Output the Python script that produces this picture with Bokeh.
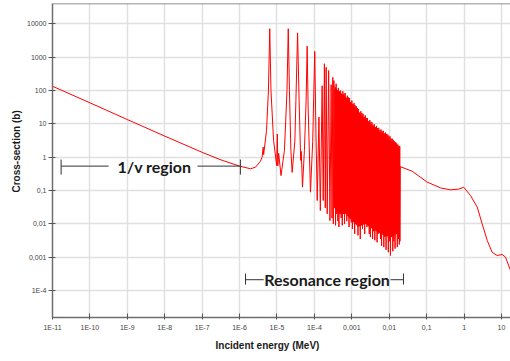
from bokeh.plotting import figure
from bokeh.models import Range1d, FixedTicker, CustomJSTickFormatter, Label, Title, Span
from bokeh.embed import file_html
from bokeh.resources import INLINE

# ---------------- data ----------------
x_ticks = [1e-11, 1e-10, 1e-9, 1e-8, 1e-7, 1e-6, 1e-5, 1e-4, 1e-3, 1e-2, 1e-1, 1, 10]
x_tick_labels = ["1E-11", "1E-10", "1E-9", "1E-8", "1E-7", "1E-6", "1E-5", "1E-4",
                 "0,001", "0,01", "0,1", "1", "10"]
y_ticks = [1e-4, 1e-3, 1e-2, 1e-1, 1, 10, 100, 1000, 10000]
y_tick_labels = ["1E-4", "0,001", "0,01", "0,1", "1", "10", "100", "1000", "10000"]

# 1/v region (MeV, barns)
onev_E = [1e-11, 1e-10, 1e-9, 1e-8, 1e-7, 3e-7, 1e-6]
onev_xs = [135, 43, 13.5, 4.3, 1.4, 0.85, 0.54]

# resolved resonances
res_E = [1.95e-6, 2.66e-6, 3.6e-6, 4.0e-6, 4.27e-6, 4.4e-6, 5.25e-6, 5.9e-6, 6.4e-6, 6.9e-6,
         8.1e-6, 9.8e-6, 1.02e-5, 1.05e-5, 1.11e-5, 1.28e-5, 1.58e-5, 1.85e-5, 2.0e-5, 2.15e-5,
         2.35e-5, 2.54e-5, 3.0e-5, 3.2e-5, 3.55e-5, 3.9e-5, 4.3e-5, 4.45e-5, 4.8e-5, 5.4e-5,
         6.0e-5, 6.4e-5, 6.8e-5, 7.85e-5, 9.0e-5, 1.02e-4, 1.1e-4, 1.19e-4, 1.32e-4, 1.44e-4,
         1.61e-4, 1.72e-4, 1.85e-4, 1.95e-4, 2.06e-4, 2.2e-4, 2.4e-4, 2.6e-4, 2.8e-4, 2.95e-4,
         3.1e-4, 3.2e-4]
res_xs = [0.45, 0.50, 0.75, 1.0, 2.0, 1.2, 6.3, 100, 7200, 100,
          3.2, 0.56, 5, 0.55, 1.3, 0.28, 1.6, 100, 7200, 100,
          1.6, 0.35, 3, 50, 5400, 50, 0.8, 1.5, 0.126, 1.6,
          50, 2150, 30, 0.089, 3, 1500, 5, 0.05, 16, 0.025,
          140, 0.05, 640, 0.03, 500, 0.02, 400, 0.0125, 150, 0.015,
          250, 0.01]

# dense resonance band: peaks and valleys
band_peak_E = [3.31e-4, 3.55e-4, 3.80e-4, 4.07e-4, 4.37e-4, 4.68e-4, 5.01e-4, 5.37e-4, 5.75e-4, 6.17e-4,
               6.61e-4, 7.08e-4, 7.59e-4, 8.13e-4, 8.71e-4, 9.33e-4, 1.0e-3, 1.07e-3, 1.15e-3, 1.23e-3,
               1.32e-3, 1.41e-3, 1.51e-3, 1.62e-3, 1.74e-3, 1.86e-3, 2.0e-3, 2.14e-3, 2.29e-3, 2.45e-3,
               2.63e-3, 2.82e-3, 3.02e-3, 3.24e-3, 3.47e-3, 3.72e-3, 3.98e-3, 4.27e-3, 4.57e-3, 4.90e-3,
               5.25e-3, 5.62e-3, 6.03e-3, 6.46e-3, 6.92e-3, 7.41e-3, 7.94e-3, 8.51e-3, 9.12e-3, 9.77e-3,
               1.05e-2, 1.12e-2, 1.20e-2, 1.29e-2, 1.38e-2, 1.48e-2, 1.58e-2, 1.70e-2, 1.82e-2, 1.91e-2]
band_peak_xs = [200, 110, 160, 75, 120, 95, 100, 60, 95, 80,
                85, 55, 70, 62, 60, 45, 50, 40, 42, 36,
                34, 30, 28, 22, 24, 21, 20, 16, 18, 15,
                15, 12, 13, 11.5, 11, 9, 9.8, 8, 8.7, 7.5,
                7.6, 6.5, 6.8, 6.0, 6.2, 5.2, 5.5, 5.0, 4.8, 4.4,
                4.2, 3.6, 3.6, 3.3, 3.0, 2.8, 2.6, 2.4, 2.2, 2.1]
band_valley_E = [3.43e-4, 3.67e-4, 3.94e-4, 4.22e-4, 4.52e-4, 4.84e-4, 5.19e-4, 5.56e-4, 5.96e-4, 6.38e-4,
                 6.84e-4, 7.33e-4, 7.85e-4, 8.41e-4, 9.02e-4, 9.66e-4, 1.035e-3, 1.11e-3, 1.19e-3, 1.27e-3,
                 1.36e-3, 1.46e-3, 1.57e-3, 1.68e-3, 1.80e-3, 1.93e-3, 2.07e-3, 2.21e-3, 2.37e-3, 2.54e-3,
                 2.72e-3, 2.92e-3, 3.13e-3, 3.35e-3, 3.59e-3, 3.85e-3, 4.12e-3, 4.42e-3, 4.73e-3, 5.07e-3,
                 5.43e-3, 5.82e-3, 6.24e-3, 6.68e-3, 7.16e-3, 7.67e-3, 8.22e-3, 8.81e-3, 9.44e-3, 1.01e-2,
                 1.08e-2, 1.16e-2, 1.245e-2, 1.33e-2, 1.43e-2, 1.53e-2, 1.64e-2, 1.76e-2, 1.86e-2]
band_valley_xs = [0.03, 0.009, 0.02, 0.012, 0.008, 0.02, 0.015, 0.009, 0.02, 0.01,
                  0.028, 0.012, 0.02, 0.008, 0.016, 0.011, 0.007, 0.014, 0.005, 0.012,
                  0.01, 0.0045, 0.009, 0.0035, 0.01, 0.007, 0.011, 0.005, 0.0126, 0.008,
                  0.01, 0.005, 0.004, 0.008, 0.0035, 0.006, 0.0032, 0.007, 0.0028, 0.005,
                  0.0063, 0.0035, 0.0022, 0.005, 0.002, 0.004, 0.00166, 0.0045, 0.0014, 0.003,
                  0.00112, 0.004, 0.0015, 0.003, 0.0018, 0.005, 0.002, 0.0035, 0.0024]

# dense band: densely filled core (visually solid)
core_E = [3.43e-4, 4.4e-4, 6.76e-4, 1.04e-3, 1.50e-3, 2.32e-3, 3.56e-3, 5.15e-3, 7.92e-3, 1.22e-2, 1.91e-2]
core_top = [140, 95, 66, 38, 22, 13.5, 8.6, 6.1, 4.4, 2.8, 1.9]
core_bottom = [0.03, 0.02, 0.02, 0.012, 0.008, 0.01, 0.007, 0.0055, 0.0042, 0.0042, 0.0055]

# fast region
tail_E = [1.93e-2, 1.97e-2, 0.041, 0.102, 0.234, 0.43, 0.71, 0.98, 1.48, 2.24,
          3.04, 4.14, 5.62, 7.66, 10.4, 12.8, 17.4]
tail_xs = [0.003, 0.52, 0.38, 0.18, 0.12, 0.105, 0.11, 0.125, 0.071, 0.032,
           0.01, 0.0032, 0.0014, 0.00112, 0.0012, 0.001, 0.0004]

# region annotations
onev_region = [1.7e-11, 1.05e-6]
onev_gap = [3.16e-10, 7.5e-8]
onev_level = 0.54
onev_bar = [0.30, 0.85]
onev_text_x = 5.3e-9
res_region = [1.44e-6, 0.024]
res_gap = [4.4e-6, 0.0108]
res_level = 2.1e-4
res_bar = [1.5e-4, 3.2e-4]
res_text_x = 2.17e-4

x_min, x_max = 1e-11, 17.4
y_min, y_max = 1.54e-5, 4.12e4

# ---------------- assemble curve ----------------
band_E, band_xs = [], []
for i in range(len(band_peak_E)):
    band_E.append(band_peak_E[i]); band_xs.append(band_peak_xs[i])
    if i < len(band_valley_E):
        band_E.append(band_valley_E[i]); band_xs.append(band_valley_xs[i])

E_all = onev_E + res_E + band_E + tail_E
xs_all = onev_xs + res_xs + band_xs + tail_xs

# ---------------- figure ----------------
p = figure(width=510, height=361, x_axis_type="log", y_axis_type="log",
           x_range=Range1d(x_min, x_max), y_range=Range1d(y_min, y_max),
           output_backend="svg", toolbar_location=None,
           min_border_left=52, min_border_right=0, min_border_top=3, min_border_bottom=44)
p.outline_line_color = None
p.background_fill_color = "white"
p.border_fill_color = "white"

fmt_code = """
let best = -1; let bd = 1e9;
for (let i = 0; i < tv.length; i++) {
  const d = Math.abs(Math.log10(tv[i]) - Math.log10(tick));
  if (d < bd) { bd = d; best = i; }
}
return bd < 1e-6 ? tl[best] : "";
"""
xt = FixedTicker(ticks=x_ticks)
yt = FixedTicker(ticks=y_ticks)
p.xaxis.ticker = xt
p.yaxis.ticker = yt
p.xgrid.ticker = xt
p.ygrid.ticker = yt
p.xaxis.formatter = CustomJSTickFormatter(args=dict(tv=x_ticks, tl=x_tick_labels), code=fmt_code)
p.yaxis.formatter = CustomJSTickFormatter(args=dict(tv=y_ticks, tl=y_tick_labels), code=fmt_code)

for ax in (p.xaxis, p.yaxis):
    ax.axis_line_color = "#6e6e6e"
    ax.axis_line_width = 1.5
    ax.major_tick_line_color = "#555555"
    ax.minor_tick_line_color = None
    ax.major_label_text_font = "Liberation Sans"
    ax.major_label_text_font_size = "7px"
    ax.major_label_text_color = "#444444"
p.xaxis.major_tick_in = 4
p.xaxis.major_tick_out = 2
p.xaxis.major_label_standoff = 4
p.yaxis.major_tick_in = 3
p.yaxis.major_tick_out = 4
p.yaxis.major_label_standoff = 2

for g in (p.xgrid, p.ygrid):
    g.grid_line_color = "#e0e0e0"
    g.grid_line_width = 1.5

p.add_layout(Span(location=y_max, dimension="width", line_color="#6e6e6e", line_width=1.5))

p.add_layout(Title(text="Incident energy (MeV)", align="left", offset=163, standoff=8,
                   text_font="Liberation Sans", text_font_size="10px", text_font_style="bold",
                   text_color="#1a1a1a"), "below")
p.add_layout(Title(text="Cross-section (b)", align="left", offset=125, standoff=5,
                   text_font="Liberation Sans", text_font_size="10px", text_font_style="bold",
                   text_color="#1a1a1a"), "left")

p.varea(x=core_E, y1=core_bottom, y2=core_top, fill_color="#ff0000")
p.line(E_all, xs_all, line_color="#ff0000", line_width=1)

# annotations
ann_col = "#333333"
p.segment(x0=[onev_region[0], onev_gap[1], onev_region[0], onev_region[1],
              res_region[0], res_gap[1], res_region[0], res_region[1]],
          y0=[onev_level, onev_level, onev_bar[0], onev_bar[0],
              res_level, res_level, res_bar[0], res_bar[0]],
          x1=[onev_gap[0], onev_region[1], onev_region[0], onev_region[1],
              res_gap[0], res_region[1], res_region[0], res_region[1]],
          y1=[onev_level, onev_level, onev_bar[1], onev_bar[1],
              res_level, res_level, res_bar[1], res_bar[1]],
          line_color=ann_col, line_width=1)

p.add_layout(Label(x=onev_text_x, y=onev_level, text="1/v region", text_align="center",
                   text_baseline="middle", text_font="Lato", text_font_size="16px",
                   text_font_style="bold", text_color="#1a1a1a"))
p.add_layout(Label(x=res_text_x, y=res_level, text="Resonance region", text_align="center",
                   text_baseline="middle", text_font="Lato", text_font_size="16px",
                   text_font_style="bold", text_color="#1a1a1a"))

open("out.html", "w").write(file_html(p, INLINE))
